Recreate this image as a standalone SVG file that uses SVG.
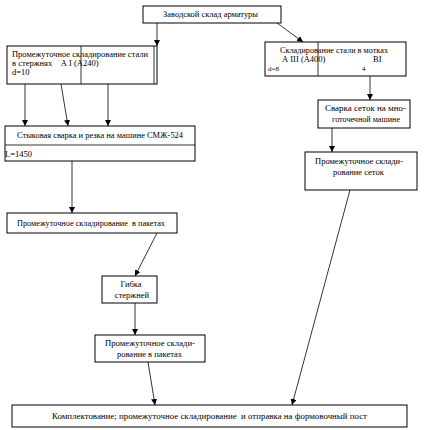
<svg xmlns="http://www.w3.org/2000/svg" width="426" height="430" viewBox="0 0 426 430">
<defs>
<style>
.b{fill:#fff;stroke:#000;stroke-width:1}
.l{fill:none;stroke:#000;stroke-width:0.8}
.c{stroke:#000;stroke-width:0.8;fill:none}
text{font-family:"Liberation Serif","Times New Roman",serif;font-size:8.5px;fill:#000}
.m{text-anchor:middle}
</style>
<marker id="a" viewBox="0 0 8 8" refX="8" refY="4" markerWidth="6" markerHeight="6" orient="auto" markerUnits="userSpaceOnUse">
<path d="M0,0 L8,4 L0,8 z" fill="#000"/>
</marker>
</defs>
<rect width="426" height="430" fill="#fff"/>
<g id="connectors">
<line class="c" x1="157" y1="23" x2="157" y2="46" marker-end="url(#a)"/>
<line class="c" x1="277" y1="23" x2="303" y2="42" marker-end="url(#a)"/>
<line class="c" x1="25" y1="84" x2="25" y2="126" marker-end="url(#a)"/>
<line class="c" x1="61" y1="84" x2="68" y2="126" marker-end="url(#a)"/>
<line class="c" x1="108" y1="84" x2="108" y2="126" marker-end="url(#a)"/>
<line class="c" x1="370" y1="76" x2="370" y2="100" marker-end="url(#a)"/>
<line class="c" x1="332" y1="128" x2="332" y2="152" marker-end="url(#a)"/>
<line class="c" x1="72" y1="161" x2="72" y2="213" marker-end="url(#a)"/>
<line class="c" x1="157" y1="233" x2="135" y2="276" marker-end="url(#a)"/>
<line class="c" x1="135" y1="303" x2="135" y2="335" marker-end="url(#a)"/>
<line class="c" x1="148" y1="362" x2="155" y2="405" marker-end="url(#a)"/>
<line class="c" x1="350" y1="190" x2="292" y2="405" marker-end="url(#a)"/>
</g>
<g id="n1">
<rect class="b" x="143" y="6" width="138" height="17"/>
<text x="163" y="17" textLength="95" lengthAdjust="spacingAndGlyphs">Заводской склад арматуры</text>
</g>
<g id="n2">
<rect class="b" x="7" y="46" width="150" height="38"/>
<line class="l" x1="81" y1="46" x2="81" y2="84"/>
<line class="l" x1="154" y1="46" x2="154" y2="84"/>
<text x="12" y="57" textLength="136" lengthAdjust="spacingAndGlyphs">Промежуточное складирование  стали</text>
<text x="12" y="66" xml:space="preserve">в стержнях    А I (А240)</text>
<text x="12" y="75">d=10</text>
</g>
<g id="n3">
<rect class="b" x="265" y="42" width="141" height="34"/>
<line class="l" x1="318" y1="42" x2="318" y2="76"/>
<text x="280" y="53" textLength="108" lengthAdjust="spacingAndGlyphs">Складирование стали в мотках</text>
<text x="282" y="62">А III (А400)</text>
<text x="373" y="62">ВI</text>
<text x="268" y="71" style="font-size:7px">d=8</text>
<text x="362" y="71" style="font-size:7px">4</text>
</g>
<g id="n4">
<rect class="b" x="318" y="100" width="92" height="28"/>
<text x="325" y="111" textLength="81" lengthAdjust="spacingAndGlyphs">Сварка сеток на мно-</text>
<text x="332" y="122" textLength="68" lengthAdjust="spacingAndGlyphs">готочечной машине</text>
</g>
<g id="n5">
<rect class="b" x="305" y="152" width="112" height="38"/>
<text x="315" y="164" textLength="88" lengthAdjust="spacingAndGlyphs">Промежуточное склади-</text>
<text x="333" y="175">рование сеток</text>
</g>
<g id="n6">
<rect class="b" x="5" y="126" width="190" height="35"/>
<line class="l" x1="5" y1="145" x2="195" y2="145"/>
<text x="17" y="138" textLength="166" lengthAdjust="spacingAndGlyphs">Стыковая сварка и резка на машине СМЖ-524</text>
<text x="5" y="157">L=1450</text>
</g>
<g id="n7">
<rect class="b" x="7" y="213" width="170" height="20"/>
<text x="17" y="226" textLength="148" lengthAdjust="spacingAndGlyphs" xml:space="preserve">Промежуточное складирование  в пакетах</text>
</g>
<g id="n8">
<rect class="b" x="102" y="276" width="55" height="27"/>
<text class="m" x="131" y="287">Гибка</text>
<text class="m" x="132" y="298">стержней</text>
</g>
<g id="n9">
<rect class="b" x="95" y="335" width="110" height="27"/>
<text x="105" y="346" textLength="90" lengthAdjust="spacingAndGlyphs">Промежуточное склади-</text>
<text x="117" y="357" textLength="65" lengthAdjust="spacingAndGlyphs">рование в пакетах</text>
</g>
<g id="n10">
<rect class="b" x="12" y="405" width="395" height="22"/>
<text x="52" y="419" textLength="315" lengthAdjust="spacingAndGlyphs" xml:space="preserve">Комплектование; промежуточное складирование  и отправка на формовочный пост</text>
</g>
</svg>
